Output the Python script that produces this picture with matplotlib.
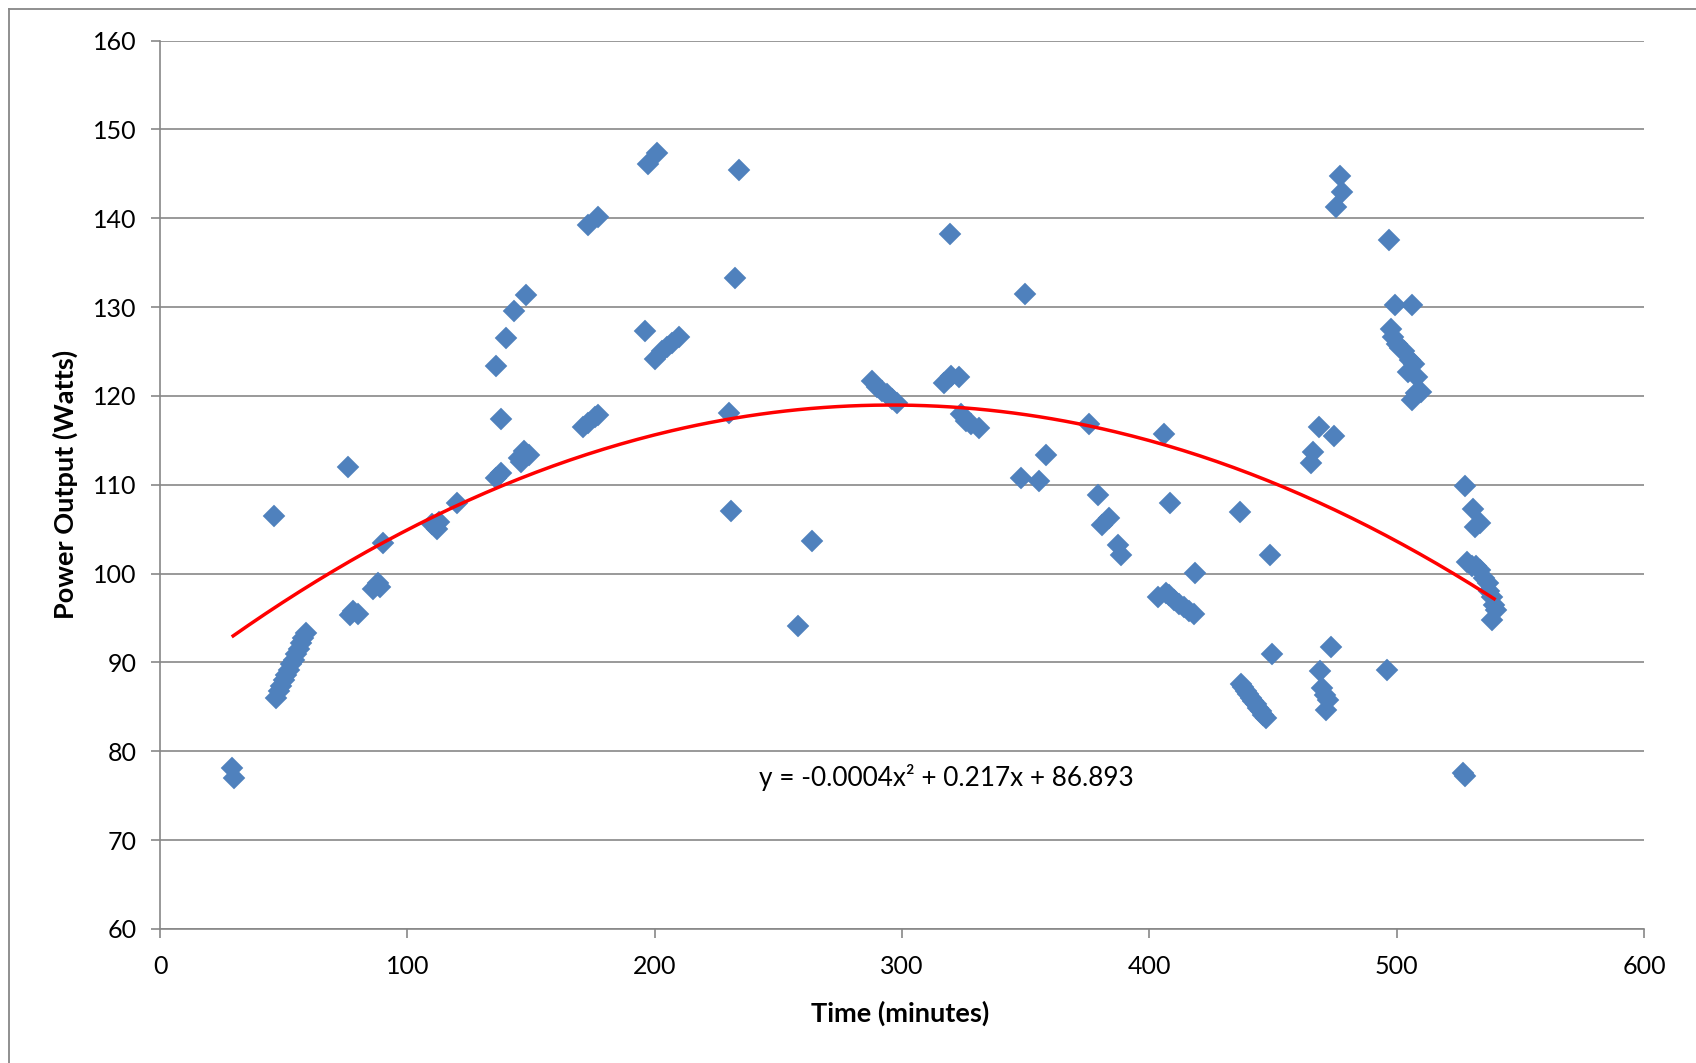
import numpy as np
import matplotlib
matplotlib.use("Agg")
import matplotlib.pyplot as plt
from matplotlib.lines import Line2D

# ---- data ----
time_min = [
    29, 30, 46,
    47, 48, 49, 50, 51, 52, 53, 54, 55, 56, 57, 58, 59,
    76, 77, 78, 80, 86, 88, 89, 90,
    110, 112, 113, 120,
    136, 138, 140, 143, 148,
    136, 138, 145, 147, 149, 146,
    173, 177, 171, 173, 176, 177,
    196, 197.5, 201, 200, 203, 205, 207, 210,
    230, 231, 232.5, 234, 258, 263.5,
    288, 290, 292, 294, 296, 298,
    317, 320, 323, 319.4,
    324, 326, 328, 331,
    348, 355.5, 358.4, 349.7,
    375.7, 379.3, 380.8, 383.5, 387.3, 388.7,
    403.5, 406, 408.5,
    406.6, 408, 410, 412, 414, 416, 418,
    418.5, 436.5,
    437, 438, 439, 440, 441, 442, 443, 444, 445, 446, 447,
    448.8, 449.7,
    465.4, 466.2, 468.5, 474.6,
    469, 470, 471, 472.3, 471.5, 473.5,
    475.4, 477.7, 477.2,
    496.1, 496.9, 499.2, 506.4,
    497.7, 498.5, 500, 501.5, 503, 504.6, 506.9, 505.5, 508.4, 510, 506.1, 508,
    526.9, 527.6,
    527.6, 530.7, 531.5, 533.5,
    528.4, 530.5, 532.2, 533.8, 535.5, 536.9, 537.5, 538.4, 539.5, 538.4, 540,
]
power_w = [
    78.1, 77.0, 106.5,
    86.0, 86.8, 87.4, 88.0, 88.6, 89.2, 89.8, 90.3, 90.9, 91.5, 92.2, 92.8, 93.3,
    112.0, 95.3, 95.8, 95.5, 98.3, 98.9, 98.5, 103.4,
    105.6, 105.0, 105.8, 108.0,
    123.4, 117.4, 126.5, 129.6, 131.4,
    110.8, 111.3, 113.0, 113.8, 113.3, 112.6,
    139.2, 140.1, 116.5, 117.0, 117.6, 117.8,
    127.3, 146.1, 147.3, 124.2, 125.0, 125.5, 126.0, 126.6,
    118.1, 107.0, 133.3, 145.4, 94.1, 103.7,
    121.7, 121.0, 120.5, 120.2, 119.6, 119.2,
    121.5, 122.2, 122.1, 138.2,
    118.0, 117.2, 116.8, 116.4,
    110.8, 110.4, 113.3, 131.5,
    116.8, 108.8, 105.5, 106.3, 103.2, 102.1,
    97.4, 115.7, 108.0,
    97.8, 97.6, 97.0, 96.6, 96.2, 95.8, 95.5,
    100.1, 106.9,
    87.6, 87.2, 86.8, 86.4, 86.0, 85.7, 85.3, 84.9, 84.5, 84.1, 83.8,
    102.1, 90.9,
    112.4, 113.7, 116.5, 115.5,
    89.0, 87.1, 86.3, 85.8, 84.6, 91.7,
    141.3, 143.0, 144.8,
    89.2, 137.5, 130.2, 130.2,
    127.5, 126.6, 125.8, 125.4, 125.1, 122.7, 123.6, 124.0, 122.1, 120.4, 119.5, 120.3,
    77.6, 77.2,
    109.9, 107.3, 105.2, 105.7,
    101.3, 100.8, 100.9, 100.4, 99.5, 98.9, 98.0, 97.4, 96.5, 94.8, 95.9,
]
# polynomial trendline coefficients (a, b, c) for y = a x^2 + b x + c
trend_coeffs = [-0.000367, 0.217, 86.893]
equation_label = "y = -0.0004x\u00b2 + 0.217x + 86.893"
x_ticks = [0, 100, 200, 300, 400, 500, 600]
y_ticks = [60, 70, 80, 90, 100, 110, 120, 130, 140, 150, 160]
x_label = "Time (minutes)"
y_label = "Power Output (Watts)"

plt.rcParams['font.family'] = ['Lato', 'DejaVu Sans']

W, H = 1696, 1063
fig = plt.figure(figsize=(W / 100, H / 100), dpi=100)
fig.patch.set_facecolor('white')

left, right = 160 / W, 1644 / W
bottom, top = (H - 929) / H, (H - 40.5) / H
ax = fig.add_axes([left, bottom, right - left, top - bottom])

grid_c = '#878787'
text_c = '#000000'

ax.plot(time_min, power_w, linestyle='none', marker='D', ms=11.5,
        mfc='#4F81BD', mec='#4F81BD', mew=0.3, zorder=3)

xs = np.linspace(min(time_min), max(time_min), 300)
ys = np.polyval(trend_coeffs, xs)
ax.plot(xs, ys, color='#FF0000', lw=2.5, zorder=4, solid_capstyle='butt')

ax.set_xlim(0, 600)
ax.set_ylim(60, 160)
ax.set_xticks(x_ticks)
ax.set_yticks(y_ticks)
ax.set_xticklabels([str(v) for v in x_ticks])
ax.set_yticklabels([str(v) for v in y_ticks])

ax.yaxis.grid(True, color=grid_c, lw=1.2, zorder=0)
ax.xaxis.grid(False)
ax.set_axisbelow(True)

for s in ['top', 'right']:
    ax.spines[s].set_visible(False)
for s in ['left', 'bottom']:
    ax.spines[s].set_color(grid_c)
    ax.spines[s].set_linewidth(1.2)

ax.tick_params(axis='both', direction='out', length=6.5, width=1.2,
               color=grid_c, labelsize=18, labelcolor=text_c)
ax.tick_params(axis='x', pad=12)
ax.tick_params(axis='y', pad=10.5)

ax.set_xlabel(x_label, fontsize=19.5, fontweight='bold', color=text_c)
ax.set_ylabel(y_label, fontsize=19.5, fontweight='bold', color=text_c)
ax.xaxis.set_label_coords(0.4987, -(1013 - 929) / 888.5)
ax.xaxis.label.set_va('center')
ax.yaxis.set_label_coords((65 - 160) / 1484, 0.5)
ax.yaxis.label.set_va('center')

ax.text(318, 77.0, equation_label, ha='center', va='center',
        fontsize=18.8, color=text_c, zorder=5)

# outer chart border (top and left edges visible)
fig.add_artist(Line2D([8.5 / W, 8.5 / W], [0, 1 - 9 / H], transform=fig.transFigure,
                      color=grid_c, lw=1.3))
fig.add_artist(Line2D([8.5 / W, 1], [1 - 9 / H, 1 - 9 / H], transform=fig.transFigure,
                      color=grid_c, lw=1.3))

fig.savefig('out.png', dpi=100, facecolor='white')
